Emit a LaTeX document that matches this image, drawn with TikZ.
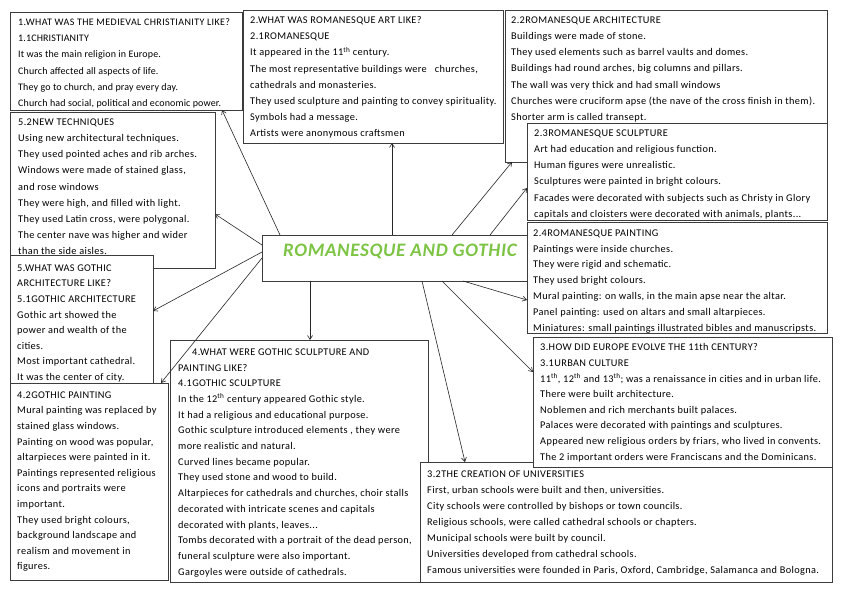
\documentclass[tikz,border=0pt]{standalone}
\usepackage{fontspec}
\setmainfont{Carlito}
\usetikzlibrary{arrows.meta,calc}
\definecolor{titlegreen}{RGB}{125,196,68}
\definecolor{edge}{RGB}{60,60,60}
\begin{document}
\begin{tikzpicture}[x=1pt,y=-1pt,
  panel/.style={draw=edge, fill=white, line width=0.7pt, inner sep=0pt, outer sep=0pt, anchor=north west},
  txt/.style={anchor=north west, inner sep=0pt, align=left, font=\fontsize{10.3}{#1}\selectfont\addfontfeature{LetterSpace=3.5}},
  txt/.default=16,
  txtsmall/.style={anchor=north west, inner sep=0pt, align=left, font=\fontsize{10}{#1}\selectfont\addfontfeature{LetterSpace=1.5}},
  link/.style={-{Straight Barb[length=4pt,width=5pt]}, line width=0.6pt, draw=black!85}]
\useasboundingbox[fill=white] (0,0) rectangle (848,599);

% 1
\node[panel, minimum width=232pt, minimum height=98pt] (b1) at (10,12) {};
\node[txtsmall=16.2] (t1) at (18,18.5) {\addfontfeature{LetterSpace=4}1.WHAT WAS THE MEDIEVAL CHRISTIANITY LIKE?\\
1.1CHRISTIANITY\\
It was the main religion in Europe.\\
Church affected all aspects of life.\\
They go to church, and pray every day.\\
Church had social, political and economic power.};

% 2
\node[panel, minimum width=260pt, minimum height=133pt] (b2) at (243,10) {};
\node[txt=16.1] (t2) at (250,16.5) {2.WHAT WAS ROMANESQUE ART LIKE?\\
2.1ROMANESQUE\\
It appeared in the 11\textsuperscript{th} century.\\
The most representative buildings were~~~churches,\\
cathedrals and monasteries.\\
They used sculpture and painting to convey spirituality.\\
Symbols had a message.\\
Artists were anonymous craftsmen};

% 2.2
\node[panel, minimum width=322pt, minimum height=152pt] (b22) at (505,10) {};
\node[txt=16.2] (t22) at (511,16.5) {2.2ROMANESQUE ARCHITECTURE\\
Buildings were made of stone.\\
They used elements such as barrel vaults and domes.\\
Buildings had round arches, big columns and pillars.\\
The wall was very thick and had small windows\\
Churches were cruciform apse (the nave of the cross finish in them).\\
Shorter arm is called transept.};

% 2.3
\node[panel, minimum width=300pt, minimum height=97pt] (b23) at (527,123) {};
\node[txt=16.2] (t23) at (534,129.5) {2.3ROMANESQUE SCULPTURE\\
Art had education and religious function.\\
Human figures were unrealistic.\\
Sculptures were painted in bright colours.\\
Facades were decorated with subjects such as Christy in Glory\\
capitals and cloisters were decorated with animals, plants...};

% 5.2
\node[panel, minimum width=205pt, minimum height=156pt] (b52) at (10,112) {};
\node[txt=16.2] (t52) at (18,118.5) {5.2NEW TECHNIQUES\\
Using new architectural techniques.\\
They used pointed aches and rib arches.\\
Windows were made of stained glass,\\
and rose windows\\
They were high, and filled with light.\\
They used Latin cross, were polygonal.\\
The center nave was higher and wider\\
than the side aisles.};

% 5
\node[panel, minimum width=143pt, minimum height=130pt] (b5) at (10,255) {};
\node[txt=15.6] (t5) at (17,264.5) {5.WHAT WAS GOTHIC\\
ARCHITECTURE LIKE?\\
5.1GOTHIC ARCHITECTURE\\
Gothic art showed the\\
power and wealth of the\\
cities.\\
Most important cathedral.\\
It was the center of city.};

% 4.2
\node[panel, minimum width=158pt, minimum height=197pt] (b42) at (10,383) {};
\node[txt=15.6] (t42) at (17,391.5) {4.2GOTHIC PAINTING\\
Mural painting was replaced by\\
stained glass windows.\\
Painting on wood was popular,\\
altarpieces were painted in it.\\
Paintings represented religious\\
icons and portraits were\\
important.\\
They used bright colours,\\
background landscape and\\
realism and movement in\\
figures.};

% 4
\node[panel, minimum width=258pt, minimum height=242pt] (b4) at (170,340) {};
\node[txt=15.7] (t4) at (178,348.5) {\hspace*{14pt}4.WHAT WERE GOTHIC SCULPTURE AND\\
PAINTING LIKE?\\
4.1GOTHIC SCULPTURE\\
In the 12\textsuperscript{th} century appeared Gothic style.\\
It had a religious and educational purpose.\\
Gothic sculpture introduced elements , they were\\
more realistic and natural.\\
Curved lines became popular.\\
They used stone and wood to build.\\
Altarpieces for cathedrals and churches, choir stalls\\
decorated with intricate scenes and capitals\\
decorated with plants, leaves...\\
Tombs decorated with a portrait of the dead person,\\
funeral sculpture were also important.\\
Gargoyles were outside of cathedrals.};

% centre
\node[panel, minimum width=268pt, minimum height=46pt] (cb) at (262,235) {};
\node[anchor=west, inner sep=0pt, text=titlegreen, font=\fontsize{19}{21}\selectfont\bfseries\itshape\addfontfeature{LetterSpace=3.5}] (title) at (283,251) {ROMANESQUE AND GOTHIC};

% 2.4
\node[panel, minimum width=300pt, minimum height=111pt] (b24) at (527,222) {};
\node[txt=15.8] (t24) at (533,229.5) {2.4ROMANESQUE PAINTING\\
Paintings were inside churches.\\
They were rigid and schematic.\\
They used bright colours.\\
Mural painting: on walls, in the main apse near the altar.\\
Panel painting: used on altars and small altarpieces.\\
Miniatures: small paintings illustrated bibles and manuscripsts.};

% 3.2
\node[panel, minimum width=412pt, minimum height=120pt] (b32) at (420,462) {};
\node[txt=16] (t32) at (427,470.5) {3.2THE CREATION OF UNIVERSITIES\\
First, urban schools were built and then, universities.\\
City schools were controlled by bishops or town councils.\\
Religious schools, were called cathedral schools or chapters.\\
Municipal schools were built by council.\\
Universities developed from cathedral schools.\\
Famous universities were founded in Paris, Oxford, Cambridge, Salamanca and Bologna.};

% 3
\node[panel, minimum width=299pt, minimum height=130pt] (b3) at (533,337) {};
\node[txt=15.6] (t3) at (540,343.5) {3.HOW DID EUROPE EVOLVE THE 11th CENTURY?\\
3.1URBAN CULTURE\\
11\textsuperscript{th}, 12\textsuperscript{th} and 13\textsuperscript{th}; was a renaissance in cities and in urban life.\\
There were built architecture.\\
Noblemen and rich merchants built palaces.\\
Palaces were decorated with paintings and sculptures.\\
Appeared new religious orders by friars, who lived in convents.\\
The 2 important orders were Franciscans and the Dominicans.};

% connectors
\draw[link] ($(cb.north west)+(18,0)$) -- ($(b1.south west)+(212,0)$);
\draw[link] ($(cb.north west)+(0,10)$) -- ($(b52.north east)+(0,102)$);
\draw[link] ($(cb.north west)+(0,17)$) -- ($(b5.north east)+(0,56)$);
\draw[link] ($(cb.north west)+(0,23)$) -- ($(b42.north west)+(151,0)$);
\draw[link] ($(cb.south west)+(48,0)$) -- ($(b4.north west)+(140,0)$);
\draw[link] ($(cb.north west)+(130,0)$) -- ($(b2.south west)+(149,0)$);
\draw[link] ($(cb.north west)+(190,0)$) -- ($(b22.south west)+(7,0)$);
\draw[link] ($(cb.north west)+(228,0)$) -- ($(b23.north west)+(0,65)$);
\draw[link] ($(cb.south west)+(201,0)$) -- ($(b24.north west)+(0,78)$);
\draw[link] ($(cb.south west)+(180,0)$) -- ($(b3.north west)+(0,35)$);
\draw[link] ($(cb.south west)+(160,0)$) -- ($(b32.north west)+(45,0)$);
\end{tikzpicture}
\end{document}
